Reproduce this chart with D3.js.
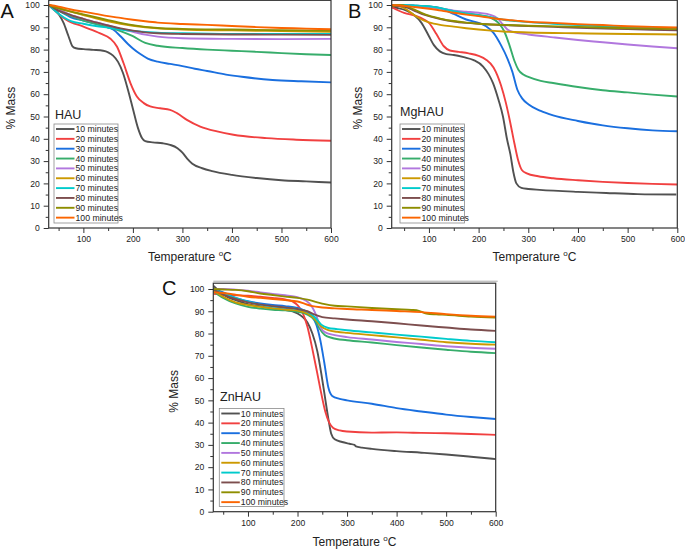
<!DOCTYPE html>
<html><head><meta charset="utf-8">
<script src="https://cdn.jsdelivr.net/npm/d3@7/dist/d3.min.js"></script>
<style>body{margin:0;background:#fff}svg{display:block;font-family:"Liberation Sans",Arial,sans-serif}</style>
</head><body>
<script>
const seriesNames = ["10 minutes","20 minutes","30 minutes","40 minutes","50 minutes","60 minutes","70 minutes","80 minutes","90 minutes","100 minutes"];
const seriesColors = ["#515151","#F14040","#1A6FDF","#37AD6B","#B177DE","#CC9900","#00CBCC","#7D4E4E","#8E8E00","#FB6501"];
const xMajorTicks = [100,200,300,400,500,600];
const xMinorTicks = [50,150,250,350,450,550];
const yMajorTicks = [0,10,20,30,40,50,60,70,80,90,100];
const yMinorTicks = [5,15,25,35,45,55,65,75,85,95];

// Panel A: HAU  [temperature °C, % mass]
const hau10 = [[30,100],[40,98.5],[50,96],[60,92],[70,86],[78,81.5],[85,80.6],[100,80.2],[120,79.9],[140,79.5],[150,78.8],[160,77.3],[170,74.5],[180,69.5],[190,62],[200,53.5],[210,45],[218,40.5],[225,39],[240,38.4],[260,38],[275,37.3],[290,35.8],[300,33.8],[310,31],[320,28.8],[340,26.8],[360,25.5],[400,23.8],[450,22.4],[500,21.4],[550,20.9],[600,20.4]];
const hau20 = [[30,100],[50,96],[66,93.3],[100,90.3],[134,87.3],[154,85],[168,81.3],[181,74],[195,65],[208,59],[222,56],[235,54.5],[255,53.7],[275,53],[289,51.5],[309,48.5],[336,45.5],[370,43.3],[403,41.8],[470,40.3],[530,39.6],[600,39.1]];
const hau30 = [[30,100],[50,97.5],[75,94.5],[100,93],[125,91.5],[150,90],[160,89],[175,86],[190,82.5],[200,80.5],[215,78],[230,76],[250,74.6],[275,73.6],[300,72.6],[325,71.4],[350,70.4],[388,68.8],[420,67.8],[482,66.4],[540,65.8],[600,65.3]];
const hau40 = [[30,100],[50,97.5],[75,95],[100,93],[125,91.5],[150,90],[175,88.3],[200,86],[225,83],[250,81.7],[300,80.7],[350,80],[400,79.5],[450,79],[500,78.4],[550,77.9],[600,77.6]];
const hau50 = [[30,100],[50,98],[75,95.5],[100,93.8],[125,92.3],[150,90.8],[175,89.3],[200,88],[225,86.7],[250,85.8],[300,85.1],[400,84.8],[500,84.7],[600,84.8]];
const hau60 = [[30,100],[50,98.8],[75,97],[100,95.5],[125,94],[150,92.7],[175,91.6],[200,90.7],[225,90],[250,89.5],[300,89],[400,88.6],[500,88.3],[600,88]];
const hau70 = [[30,100],[45,97],[60,94.5],[75,92.8],[100,91.6],[125,90.6],[150,89.8],[175,89],[200,88.4],[250,87.6],[300,87.3],[400,87],[500,87],[600,87]];
const hau80 = [[30,100],[50,97.5],[75,95.5],[100,93.8],[125,92.2],[150,90.8],[175,89.5],[200,88.5],[225,87.7],[250,87.3],[300,87],[400,86.8],[500,86.7],[600,86.6]];
const hau90 = [[30,100],[50,98.5],[75,97],[100,95.8],[125,94.5],[150,93.2],[175,92],[200,91],[225,90.2],[250,89.7],[300,89.3],[400,89],[500,88.7],[600,88.5]];
const hau100 = [[30,100],[50,99.3],[75,98],[100,97],[125,96],[150,95],[175,94.2],[200,93.4],[225,92.7],[250,92.1],[300,91.5],[350,91.1],[400,90.6],[450,90.1],[500,89.7],[550,89.4],[600,89.1]];

// Panel B: MgHAU
const mg10 = [[25,99],[40,98.5],[55,97.5],[70,95.5],[85,92],[100,86],[110,82],[122,79.2],[135,78],[150,77.6],[170,76.6],[190,75.3],[209,72.4],[220,69],[229,65],[240,57.5],[249,50],[257,40],[264,33],[270,25],[276,20],[286,18],[300,17.5],[323,17.1],[400,16.2],[457,15.7],[520,15.2],[598,15]];
const mg20 = [[25,99],[50,96.5],[75,95],[90,93.5],[100,92],[115,87],[130,81.5],[142,79.6],[160,79],[180,78.3],[200,77.2],[215,75.5],[230,72],[245,64],[255,56],[263,48],[272,38],[280,30],[287,26],[297,24.5],[320,23.2],[350,22.3],[400,21.4],[450,20.7],[500,20.2],[550,19.8],[600,19.5]];
const mg30 = [[25,100],[50,100],[75,99.7],[100,99.3],[120,98.8],[135,97.5],[150,96],[175,93.5],[200,92],[215,90.5],[230,87.5],[245,82],[258,76],[268,70],[278,62],[288,58],[300,55.5],[325,52.5],[350,50.5],[400,48],[450,46],[500,44.7],[550,43.8],[600,43.4]];
const mg40 = [[25,100],[50,100],[75,99.7],[100,99.3],[125,98.5],[150,97.3],[175,96.3],[200,95.5],[225,94.2],[240,92],[252,88],[262,82],[272,75],[280,71],[290,68.8],[300,67.8],[325,66],[350,65],[400,63.2],[450,61.8],[500,60.8],[550,59.8],[600,59]];
const mg50 = [[25,100],[50,100],[75,99.5],[100,99],[125,98.3],[150,97.5],[175,97],[200,96.5],[225,95.5],[238,94],[248,91.5],[258,89],[270,87.8],[300,86.8],[350,85.5],[400,84.3],[450,83.3],[500,82.3],[550,81.4],[600,80.6]];
const mg60 = [[25,100],[40,99.5],[55,98],[70,95.5],[85,93.5],[100,92.2],[125,91],[150,90.3],[175,89.6],[200,89],[225,88.5],[250,88.1],[300,87.7],[400,87.3],[500,87],[600,86.8]];
const mg70 = [[25,100],[50,100],[75,99.7],[100,99.4],[125,98.5],[150,97.2],[175,96.2],[200,95.3],[225,94.5],[250,93.4],[275,92.8],[300,92.3],[350,91.6],[400,91],[450,90.5],[500,90.1],[600,89.6]];
const mg80 = [[25,99.5],[40,99.5],[55,99],[70,97.5],[85,96],[100,95],[125,93.6],[150,92.6],[175,92],[200,91.6],[250,91],[300,90.6],[350,90.2],[400,89.8],[500,89.2],[600,88.6]];
const mg90 = [[25,99.5],[40,100],[55,99.5],[70,98],[85,96.5],[100,95.2],[125,93.8],[150,92.8],[175,92.1],[200,91.6],[250,91.1],[300,90.7],[400,90.2],[500,89.6],[600,89.2]];
const mg100 = [[25,100],[50,99.6],[75,99],[100,98.3],[125,97.5],[150,96.5],[175,95.7],[200,95],[225,94.2],[250,93.5],[275,93],[300,92.5],[350,92],[400,91.4],[450,91],[500,90.5],[550,90.2],[600,89.9]];

// Panel C: ZnHAU
const zn10 = [[30,101.5],[40,99.5],[50,97.5],[75,95],[100,93.2],[125,92.2],[150,91.3],[175,90.6],[190,90],[200,89],[210,87.5],[220,85],[230,80],[240,72],[248,62],[255,52],[262,42],[268,35],[275,32.5],[290,31.3],[305,30.5],[315,30],[318,29.3],[330,28.8],[350,28.2],[400,27.2],[450,26.5],[500,25.7],[550,24.7],[600,23.6]];
const zn20 = [[30,97.8],[50,97.4],[75,97.2],[100,97],[125,96.5],[150,96],[175,95.3],[190,94.4],[200,92.8],[210,89.5],[220,83],[230,73],[240,62],[248,53],[256,45],[264,40],[272,37.6],[285,36.5],[300,36],[350,35.5],[400,35.6],[450,35.4],[500,35.2],[550,34.9],[600,34.5]];
const zn30 = [[30,100],[50,98.5],[75,96],[100,94.5],[125,93.5],[150,92.8],[175,92.3],[200,91.5],[215,90.2],[228,88],[238,84],[246,77],[254,67],[262,56],[270,52],[285,50.7],[300,50],[350,48.5],[400,46.5],[450,45],[500,43.6],[550,42.5],[600,41.6]];
const zn40 = [[30,99],[50,96],[75,93.5],[100,92],[125,91.2],[150,90.7],[175,90.4],[200,89.8],[220,88.5],[235,86],[245,82],[255,79.3],[270,78],[300,77],[350,76],[400,74.8],[450,73.7],[500,72.7],[550,71.8],[600,71.2]];
const zn50 = [[30,100],[50,100],[75,99.7],[100,99.2],[125,98.5],[150,97.8],[175,97.2],[200,96.3],[215,95],[228,92.5],[238,88],[246,83],[256,80.5],[275,79.3],[300,78.4],[350,77.3],[400,76.2],[450,75.3],[500,74.3],[550,73.6],[600,73.2]];
const zn60 = [[30,99.5],[50,96.5],[75,94],[100,92.8],[125,92],[150,91.3],[175,90.8],[200,90.3],[220,89],[235,86.5],[248,83.2],[262,81.5],[280,80.8],[300,80.3],[350,79.3],[400,78.3],[450,77.2],[500,76.1],[550,75.4],[600,75]];
const zn70 = [[30,100],[50,98],[75,96],[100,94.3],[125,93],[150,92.2],[175,91.6],[200,91],[220,89.8],[235,87.3],[248,84],[262,82.5],[280,82],[300,81.5],[350,80.5],[400,79.5],[450,78.6],[500,77.6],[550,76.7],[600,76.1]];
const zn80 = [[30,99.7],[50,97.5],[75,95.5],[100,94],[125,93],[150,92.3],[175,91.7],[200,91],[220,90],[235,88.5],[250,87.4],[275,86.8],[300,86.3],[350,85.5],[400,84.6],[450,83.6],[500,82.7],[550,81.8],[600,81.2]];
const zn90 = [[30,100],[50,99.8],[75,99.6],[100,99],[125,98],[150,97.3],[175,96.6],[200,96],[220,95.2],[240,94],[255,93.2],[275,92.5],[300,92.2],[350,91.5],[400,90.9],[430,90.6],[445,90.2],[460,89],[480,88.6],[500,88.4],[550,87.6],[600,87.2]];
const zn100 = [[30,98.5],[50,98.2],[75,97.5],[100,96.5],[125,96],[150,95.5],[175,95],[200,94.4],[215,93.3],[230,92.3],[250,91.7],[275,91.3],[300,91],[350,90.6],[400,90.1],[450,89.6],[500,88.7],[550,88],[600,87.6]];

const W = 685, H = 549;
const svg = d3.select("body").append("svg").attr("width", W).attr("height", H);

function drawPanel(cfg, idx) {
  const x = d3.scaleLinear().domain(cfg.xDomain).range([cfg.left, cfg.right]);
  const y = d3.scaleLinear().domain([0, 100]).range([cfg.bottom, cfg.y100]);
  const top = y(cfg.yTop);
  const g = svg.append("g");
  const clipId = "clip" + idx;
  svg.append("clipPath").attr("id", clipId).append("rect")
    .attr("x", cfg.left).attr("y", top).attr("width", cfg.right - cfg.left).attr("height", cfg.bottom - top);

  // axes
  const xa = g.append("g").attr("transform", `translate(0,${cfg.bottom})`)
    .call(d3.axisBottom(x).tickValues(xMajorTicks).tickSize(5).tickPadding(3).tickFormat(d3.format("d")));
  g.append("g").attr("transform", `translate(0,${cfg.bottom})`)
    .call(d3.axisBottom(x).tickValues(xMinorTicks.filter(v => v > cfg.xDomain[0])).tickSize(3).tickFormat(""));
  const ya = g.append("g").attr("transform", `translate(${cfg.left},0)`)
    .call(d3.axisLeft(y).tickValues(yMajorTicks).tickSize(5).tickPadding(4).tickFormat(d3.format("d")));
  g.append("g").attr("transform", `translate(${cfg.left},0)`)
    .call(d3.axisLeft(y).tickValues(yMinorTicks).tickSize(3).tickFormat(""));
  g.selectAll(".domain").remove();
  g.selectAll(".tick line").attr("stroke", "#333").attr("stroke-width", 1);
  g.selectAll(".tick text").attr("font-size", "8.6px").attr("fill", "#222")
    .attr("font-family", '"Liberation Sans", Arial, sans-serif');

  // curves
  const line = d3.line().x(d => x(d[0])).y(d => y(d[1])).curve(d3.curveMonotoneX);
  const lg = g.append("g").attr("clip-path", `url(#${clipId})`);
  cfg.series.forEach((s, i) => {
    lg.append("path").datum(s).attr("d", line).attr("fill", "none")
      .attr("stroke", seriesColors[i]).attr("stroke-width", 1.9).attr("stroke-linejoin", "round");
  });

  // frame
  if (cfg.extraTop) {
    g.append("line").attr("x1", cfg.left).attr("x2", cfg.right + 2).attr("y1", top - 2).attr("y2", top - 2)
      .attr("stroke", "#aaa").attr("stroke-width", 1);
  }
  g.append("rect").attr("x", cfg.left).attr("y", top).attr("width", cfg.right - cfg.left)
    .attr("height", cfg.bottom - top).attr("fill", "none").attr("stroke", "#333").attr("stroke-width", 1.2);

  // legend
  const L = cfg.legend;
  g.append("rect").attr("x", L.x).attr("y", L.y).attr("width", L.w).attr("height", L.h)
    .attr("fill", "#fff").attr("stroke", "#8a8a8a").attr("stroke-width", 0.8);
  seriesNames.forEach((n, i) => {
    const ry = L.y + 5 + i * 9.85;
    g.append("line").attr("x1", L.x + 2).attr("x2", L.x + 20.5).attr("y1", ry).attr("y2", ry)
      .attr("stroke", seriesColors[i]).attr("stroke-width", 1.9);
    g.append("text").attr("x", L.x + 21.5).attr("y", ry + 3).attr("font-size", "8.7px").attr("fill", "#222").text(n);
  });

  // sample label
  g.append("text").attr("x", cfg.sample.x).attr("y", cfg.sample.y).attr("font-size", "12.5px").attr("fill", "#222").text(cfg.sample.text);
  // panel letter
  g.append("text").attr("x", cfg.letter.x).attr("y", cfg.letter.y).attr("font-size", "20px").attr("fill", "#111").text(cfg.letter.text);

  // axis titles
  const xt = g.append("text").attr("x", (cfg.left + cfg.right) / 2).attr("y", cfg.xTitleY)
    .attr("text-anchor", "middle").attr("font-size", "12px").attr("fill", "#222");
  xt.append("tspan").text("Temperature ");
  xt.append("tspan").attr("font-size", "8px").attr("dy", -5).text("o");
  xt.append("tspan").attr("dy", 5).text("C");
  const cy = (top + cfg.bottom) / 2 - 6;
  g.append("text").attr("transform", `translate(${cfg.yTitleX},${cy}) rotate(-90)`)
    .attr("text-anchor", "middle").attr("font-size", "12px").attr("fill", "#222").text("% Mass");
}

const panels = [
  { xDomain: [30, 600], left: 48.7, right: 331, bottom: 228, y100: 5, yTop: 102.1,
    series: [hau10,hau20,hau30,hau40,hau50,hau60,hau70,hau80,hau90,hau100],
    legend: { x: 54, y: 124, w: 64, h: 99 }, sample: { x: 55, y: 118.5, text: "HAU" },
    letter: { x: 0.5, y: 18, text: "A" }, xTitleY: 261, yTitleX: 15 },
  { xDomain: [25, 600], left: 391.7, right: 677.3, bottom: 228, y100: 5, yTop: 102.1,
    series: [mg10,mg20,mg30,mg40,mg50,mg60,mg70,mg80,mg90,mg100],
    legend: { x: 400, y: 124, w: 64.5, h: 99 }, sample: { x: 400, y: 116, text: "MgHAU" },
    letter: { x: 348, y: 18, text: "B" }, xTitleY: 261, yTitleX: 361.5 },
  { xDomain: [30, 600], left: 213.3, right: 495.7, bottom: 511.7, y100: 289, yTop: 102.6, extraTop: true,
    series: [zn10,zn20,zn30,zn40,zn50,zn60,zn70,zn80,zn90,zn100],
    legend: { x: 219.3, y: 408.5, w: 64.7, h: 98 }, sample: { x: 220, y: 400.5, text: "ZnHAU" },
    letter: { x: 162, y: 295, text: "C" }, xTitleY: 545.5, yTitleX: 178 }
];
panels.forEach(drawPanel);
</script>
</body></html>
